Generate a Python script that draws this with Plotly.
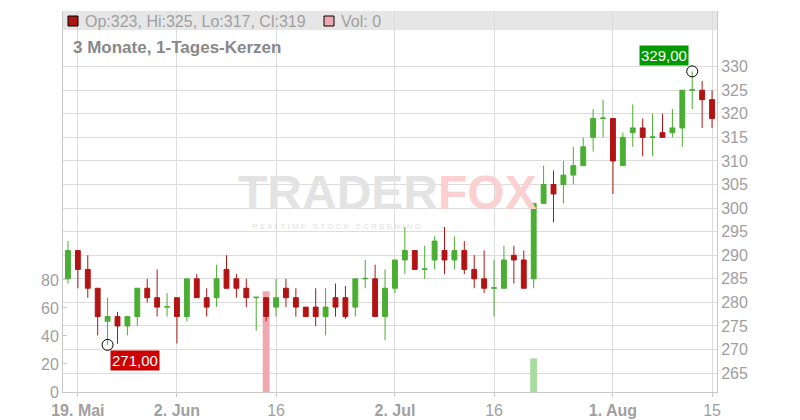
import pandas as pd
import plotly.graph_objects as go

# ---- data ----
dates = [d.strftime("%Y-%m-%d") for d in pd.bdate_range("2025-05-16", "2025-08-15")]

opens = [285, 291, 287, 283, 276, 277, 275, 277, 283, 281, 279, 281, 277, 285, 281, 281, 287, 285, 283, 281,
         281, 279, 283, 281, 279, 279, 277, 281, 281, 279, 285, 285, 277, 283, 289, 291, 287, 289, 291, 289,
         291, 287, 285, 283, 283, 290, 289, 285, 301, 305, 305, 307, 309, 315, 319, 319, 309, 316, 317, 315,
         316, 316, 317, 325, 325, 323]
highs = [293, 291, 290, 283, 281, 278, 277, 283, 285, 287, 282, 281, 285, 286, 283, 288, 290, 286, 285, 281.1,
         281, 285, 285, 283, 279, 283, 283, 284, 283.5, 285, 289, 288, 287, 289, 296, 291, 292, 294, 296, 294,
         293, 290, 291, 289, 292, 292, 291, 301, 309, 308, 310, 313, 315, 321, 323, 319, 316, 322, 319, 320,
         320, 321, 325, 329, 327, 325]
lows = [284, 283, 281, 273, 271, 271.2, 273, 275, 280, 277, 277, 271.3, 276, 281, 277, 279, 283, 281, 279, 274,
        276, 277, 279, 277, 277, 275, 273, 277, 276.5, 277, 283, 277, 272, 282, 286, 287, 285, 287, 286, 287,
        286, 283, 282, 277, 283, 284, 283, 283, 301, 297, 301, 305, 309, 312, 315, 303, 309, 313, 311, 311,
        315, 315, 313, 321, 317, 317]
closes = [291, 287, 283, 277, 277, 275, 277, 283, 281, 279, 279.1, 277, 285, 281, 279, 285, 283, 283, 281, 281.1,
          277, 281, 281, 279, 277, 277, 279, 279, 277, 285, 285.1, 277, 283, 289, 291, 287, 287.1, 293, 289, 291,
          287, 285, 283, 283.1, 289, 289, 283, 301, 305, 303, 307, 309, 313, 319, 319.1, 310, 315, 317, 315, 315.1,
          315, 317, 325, 325.1, 323, 319]
volumes = [0] * 20 + [72] + [0] * 26 + [24] + [0] * 18

tick_idx = [1, 11, 21, 33, 43, 55, 65]
tick_text = ["<b>19. Mai</b>", "<b>2. Jun</b>", "16", "<b>2. Jul</b>", "16", "<b>1. Aug</b>", "15"]
price_ticks = list(range(265, 331, 5))
vol_ticks = [0, 20, 40, 60, 80]
low_label_idx = 4
high_label_idx = 63

GREEN = "#4aae33"
RED = "#b21414"
GRAY = "#a0a0a0"
FONT = "Liberation Sans, Arial, sans-serif"

vol_colors = ["#f0a8b0" if c < o else "#aadca2" for o, c in zip(opens, closes)]

fig = go.Figure()

fig.add_trace(go.Bar(x=dates, y=volumes, marker_color=vol_colors, marker_line_width=0,
                     width=0.7, yaxis="y", hoverinfo="skip"))

fig.add_trace(go.Candlestick(
    x=dates, open=opens, high=highs, low=lows, close=closes, yaxis="y2",
    increasing=dict(line=dict(color=GREEN, width=1), fillcolor=GREEN),
    decreasing=dict(line=dict(color=RED, width=1), fillcolor=RED),
    whiskerwidth=0))

fig.add_trace(go.Scatter(x=[dates[low_label_idx], dates[high_label_idx]],
                         y=[lows[low_label_idx], highs[high_label_idx]],
                         mode="markers", yaxis="y2",
                         marker=dict(symbol="circle-open", size=11, color="#000", line=dict(width=1))))

fig.update_layout(
    width=800, height=420,
    margin=dict(l=63, r=83, t=11, b=28),
    paper_bgcolor="white", plot_bgcolor="white",
    showlegend=False,
    font=dict(family=FONT, size=16, color=GRAY),
    xaxis=dict(type="category", range=[-0.5, 65.5], rangeslider=dict(visible=False), automargin=False,
               tickvals=[dates[i] for i in tick_idx], ticktext=tick_text,
               showgrid=True, gridcolor="#dcdcdc", gridwidth=1,
               showline=True, linecolor="#c8c8c8", ticks="outside", ticklen=4, tickcolor="#c8c8c8",
               tickfont=dict(size=16, color=GRAY), zeroline=False),
    yaxis=dict(side="left", range=[0, 272], tickvals=vol_ticks, showgrid=False, zeroline=False, automargin=False,
               showline=True, linecolor="#c8c8c8", ticks="inside", ticklen=4, tickcolor="#c8c8c8",
               tickfont=dict(size=16, color=GRAY)),
    yaxis2=dict(side="right", overlaying="y", range=[261.0, 341.8], tickvals=price_ticks, automargin=False,
                showgrid=True, gridcolor="#dcdcdc", gridwidth=1, zeroline=False,
                showline=True, linecolor="#c8c8c8", ticks="", tickfont=dict(size=16, color=GRAY)),
)

# legend bar
fig.add_shape(type="rect", xref="paper", yref="paper", x0=0, x1=1, y0=0.950, y1=1.0,
              fillcolor="#e6e6e6", line_width=0, layer="below")
fig.add_shape(type="rect", xref="paper", yref="paper", x0=5 / 654, x1=15 / 654,
              y0=(392 - 26) / 381, y1=(392 - 16) / 381, fillcolor=RED, line=dict(color="#000", width=1))
fig.add_shape(type="rect", xref="paper", yref="paper", x0=261 / 654, x1=271 / 654,
              y0=(392 - 26) / 381, y1=(392 - 16) / 381, fillcolor="#f0a8b0", line=dict(color="#000", width=1))

last = -1
fmt = lambda v: f"{v:g}"
fig.add_annotation(xref="paper", yref="paper", x=20 / 654, y=(392 - 21) / 381, xanchor="left", yanchor="middle",
                   text=f"Op:{fmt(opens[last])}, Hi:{fmt(highs[last])}, Lo:{fmt(lows[last])}, Cl:{fmt(closes[last])}",
                   showarrow=False, font=dict(size=16, color=GRAY))
fig.add_annotation(xref="paper", yref="paper", x=276 / 654, y=(392 - 21) / 381, xanchor="left", yanchor="middle",
                   text=f"Vol: {volumes[last]}", showarrow=False, font=dict(size=16, color=GRAY))
fig.add_annotation(xref="paper", yref="paper", x=8 / 654, y=(392 - 47.5) / 381, xanchor="left", yanchor="middle",
                   text="<b>3 Monate, 1-Tages-Kerzen</b>", showarrow=False, font=dict(size=17, color="#888888"))

# watermark
fig.add_annotation(xref="paper", yref="paper", x=(387 - 63) / 654, y=(392 - 192) / 381, xanchor="center",
                   yanchor="middle", showarrow=False,
                   text="<b><span style='color:#e3e3e3'>TRADER</span><span style='color:#fbd0d0'>FOX</span></b>",
                   font=dict(size=48, color="#e3e3e3"))
fig.add_annotation(xref="paper", yref="paper", x=(250 - 63) / 654, y=(392 - 226) / 381, xanchor="left",
                   yanchor="middle", showarrow=False,
                   text="R E A L T I M E   S T O C K   S C R E E N I N G",
                   font=dict(size=8, color="#e2e2e2"))

# price labels
fig.add_annotation(x=dates[low_label_idx], y=lows[low_label_idx], yref="y2", xanchor="left", yanchor="top",
                   xshift=2, yshift=-5, showarrow=False, text=f"{lows[low_label_idx]:.2f}".replace(".", ","),
                   bgcolor="#cc0000", font=dict(size=15, color="white"), borderpad=1)
fig.add_annotation(x=dates[high_label_idx], y=highs[high_label_idx], yref="y2", xanchor="right", yanchor="bottom",
                   xshift=-3, yshift=5, showarrow=False, text=f"{highs[high_label_idx]:.2f}".replace(".", ","),
                   bgcolor="#009900", font=dict(size=15, color="white"), borderpad=1)

fig.write_html("out.html", config={"displayModeBar": False},
               post_script="document.body.style.margin='0';")
